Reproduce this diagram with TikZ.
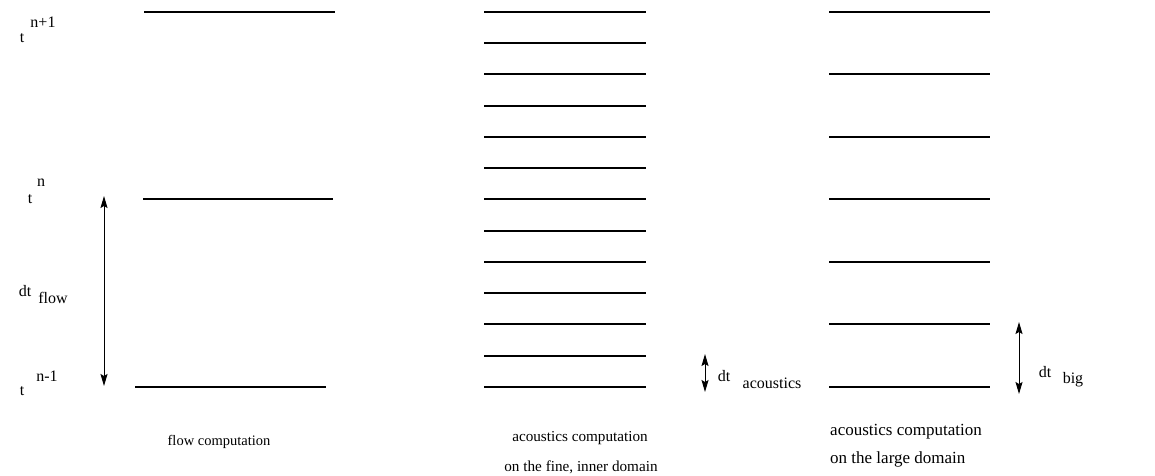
\documentclass[tikz,border=0pt]{standalone}
\usepackage{fontspec}
\setmainfont{Liberation Serif}
\usetikzlibrary{arrows.meta}
\begin{document}
\begin{tikzpicture}[x=1pt,y=-1pt,
  tline/.style={line width=1.3pt},
  dimarrow/.style={line width=1pt,{Stealth[length=12pt,width=7pt,inset=2pt]}-{Stealth[length=12pt,width=7pt,inset=2pt]}},
  lbl/.style={font=\fontsize{16}{18}\selectfont, inner sep=0pt},
  captext/.style={font=\fontsize{14.5}{17}\selectfont, inner sep=0pt},
  captextm/.style={font=\fontsize{15.2}{18}\selectfont, inner sep=0pt},
  captextb/.style={font=\fontsize{17}{20}\selectfont, inner sep=0pt, anchor=west}]
\useasboundingbox (0,0) rectangle (1155,475);
% column 1
\coordinate (f0a) at (144,12);  \coordinate (f0b) at (335,12);
\coordinate (f1a) at (143,199); \coordinate (f1b) at (333,199);
\coordinate (f2a) at (135,387); \coordinate (f2b) at (326,387);
\draw[tline] (f0a) -- (f0b);
\draw[tline] (f1a) -- (f1b);
\draw[tline] (f2a) -- (f2b);
% column 2
\foreach \y [count=\i] in {12,43,74,106,137,168,199,231,262,293,324,356,387}{
  \coordinate (c\i a) at (484,\y);
  \coordinate (c\i b) at (646,\y);
  \draw[tline] (c\i a) -- (c\i b);
}
% column 3
\foreach \y [count=\i] in {12,74,137,199,262,324,387}{
  \coordinate (d\i a) at (829,\y);
  \coordinate (d\i b) at (990,\y);
  \draw[tline] (d\i a) -- (d\i b);
}
% arrows
\coordinate (af1) at (104,196); \coordinate (af2) at (104,386);
\draw[dimarrow] (af1) -- (af2);
\coordinate (aa1) at (705,354); \coordinate (aa2) at (705,392);
\draw[dimarrow] (aa1) -- (aa2);
\coordinate (ab1) at (1019,322); \coordinate (ab2) at (1019,394);
\draw[dimarrow] (ab1) -- (ab2);
% left labels
\node[lbl] (t1) at (22,38) {t};
\node[lbl] (t1s) at (43,22) {n+1};
\node[lbl] (t2) at (30,199) {t};
\node[lbl] (t2s) at (41,183) {n};
\node[lbl] (t3) at (22,391) {t};
\node[lbl] (t3s) at (47,376) {n-1};
\node[lbl] (dtf) at (25,291) {dt};
\node[lbl] (dtfs) at (53,298) {flow};
\node[lbl] (dta) at (724,376) {dt};
\node[lbl] (dtas) at (772,383) {acoustics};
\node[lbl] (dtb) at (1045,372) {dt};
\node[lbl] (dtbs) at (1073,380) {big};
% captions
\node[captext] (cap1) at (219,442) {flow computation};
\node[captextm] (cap2a) at (580,438) {acoustics computation};
\node[captextm] (cap2b) at (581,467) {on the fine, inner domain};
\node[captextb] (cap3a) at (830,432) {acoustics computation};
\node[captextb] (cap3b) at (830,459) {on the large domain};
\end{tikzpicture}
\end{document}
